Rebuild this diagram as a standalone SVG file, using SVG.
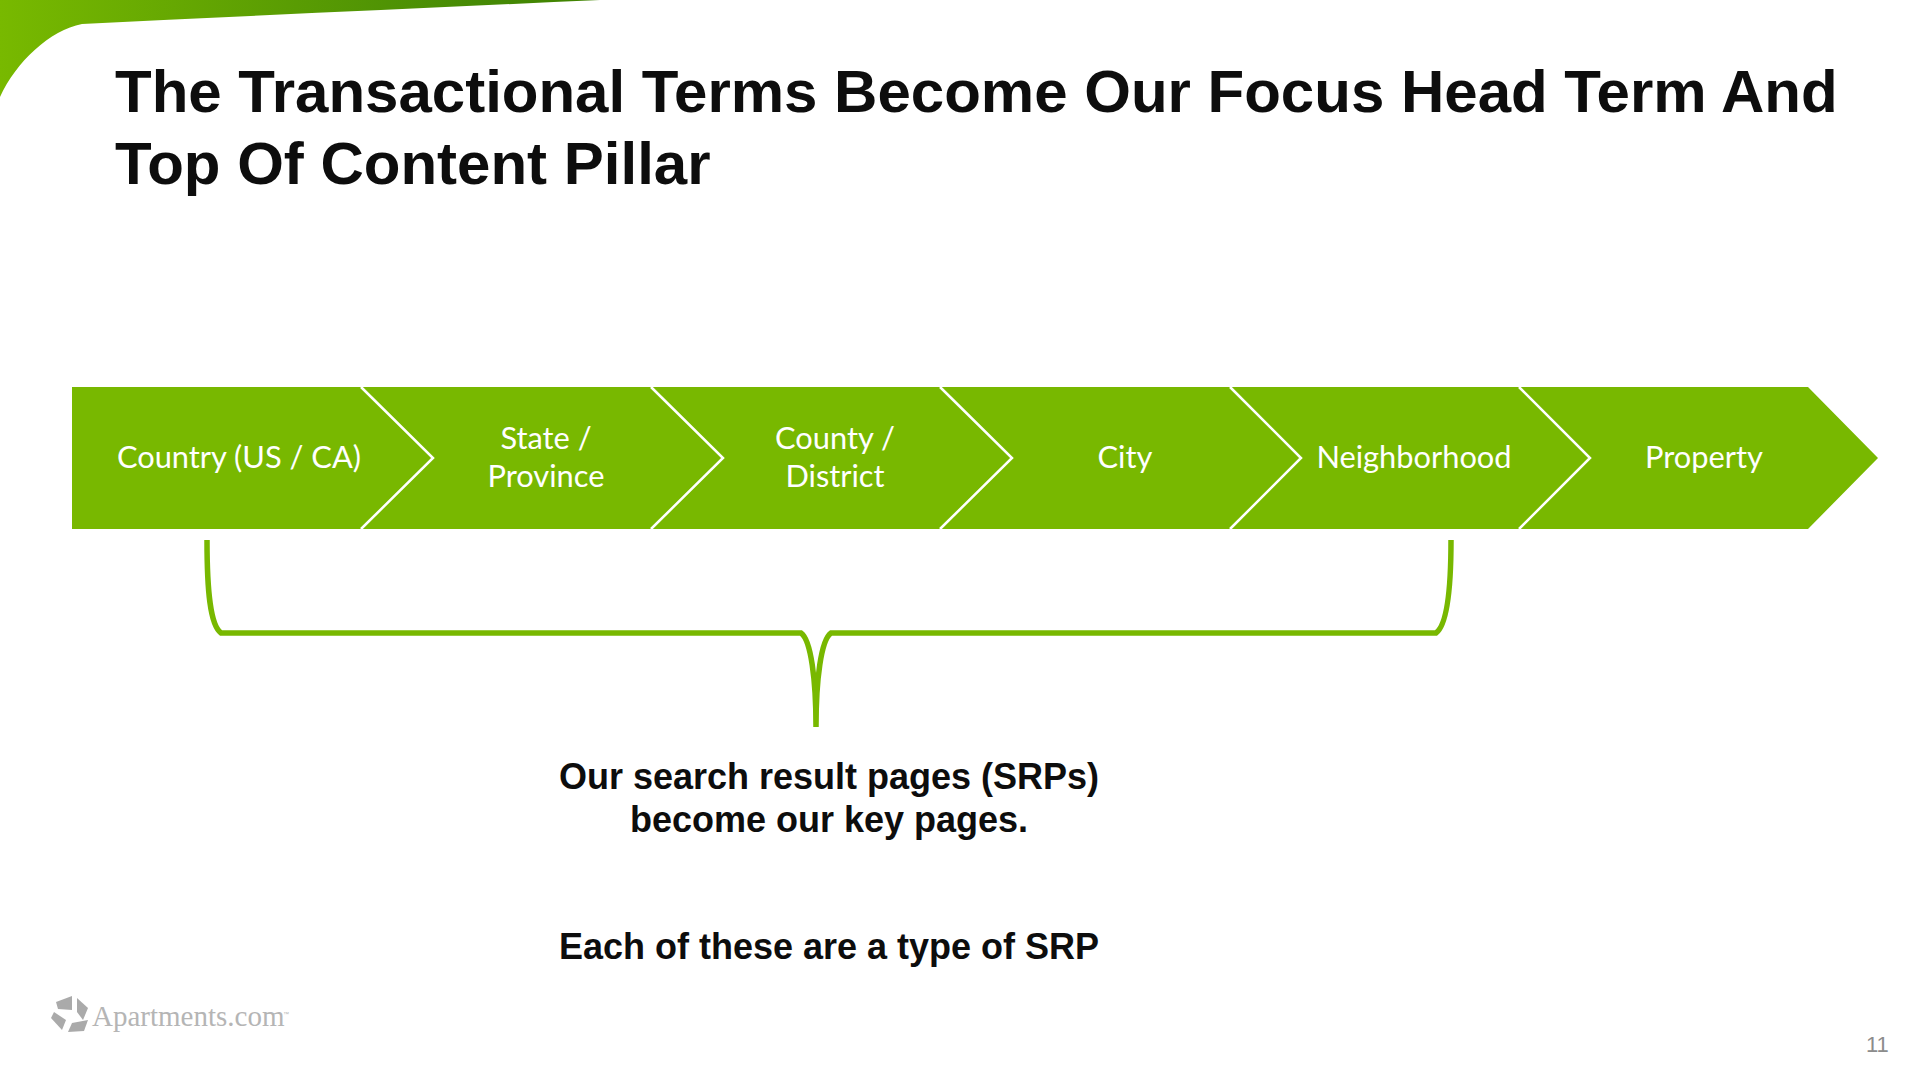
<svg xmlns="http://www.w3.org/2000/svg" width="1920" height="1080" viewBox="0 0 1920 1080">
<style>
.title{font:bold 60px "Liberation Sans",Arial,sans-serif;fill:#0d0d0d}
.body{font:bold 36px "Liberation Sans",Arial,sans-serif;fill:#0d0d0d;text-anchor:middle}
.step{font:30.8px Lato,"Open Sans",sans-serif;fill:#fff;text-anchor:middle}
.chev{fill:#78b800}
.edge{fill:none;stroke:#fff;stroke-width:2.5}
</style>
<defs><linearGradient id="swoosh" x1="0" y1="0" x2="1" y2="0"><stop offset="0" stop-color="#78b900"/><stop offset="0.8" stop-color="#468a05"/><stop offset="1" stop-color="#3f8200"/></linearGradient></defs>
<rect width="1920" height="1080" fill="#fff"/>
<path d="M0 0H600C420 8 250 16 82 24C50 30 16 62 0 97Z" fill="url(#swoosh)"/>
<text class="title" x="115" y="112">The Transactional Terms Become Our Focus Head Term And</text>
<text class="title" x="115" y="184">Top Of Content Pillar</text>
<g id="node-country"><path class="chev" d="M72 387H361L433 458L361 529H72Z"/><text class="step" x="239" y="468">Country (US / CA)</text></g>
<g id="node-state"><path class="chev" d="M361 387H651L723 458L651 529H361L433 458Z"/><text class="step" x="546" y="449">State /</text><text class="step" x="546" y="487">Province</text></g>
<g id="node-county"><path class="chev" d="M651 387H940L1012 458L940 529H651L723 458Z"/><text class="step" x="835" y="449">County /</text><text class="step" x="835" y="487">District</text></g>
<g id="node-city"><path class="chev" d="M940 387H1230L1301 458L1230 529H940L1012 458Z"/><text class="step" x="1125" y="468">City</text></g>
<g id="node-neighborhood"><path class="chev" d="M1230 387H1519L1590 458L1519 529H1230L1301 458Z"/><text class="step" x="1414" y="468">Neighborhood</text></g>
<g id="node-property"><path class="chev" d="M1519 387H1808L1878 458L1808 529H1519L1590 458Z"/><text class="step" x="1704" y="468">Property</text></g>
<g id="connectors"><path class="edge" d="M361 387L433 458L361 529M651 387L723 458L651 529M940 387L1012 458L940 529M1230 387L1301 458L1230 529M1519 387L1590 458L1519 529"/><path d="M207 540C207 590 210 625 221 633H801C811 640 816 680 816 727C816 680 821 640 831 633H1436C1447 625 1451 590 1451 540" fill="none" stroke="#78b800" stroke-width="5.5"/></g>
<g id="note"><text class="body" x="829" y="789">Our search result pages (SRPs)</text><text class="body" x="829" y="832">become our key pages.</text><text class="body" x="829" y="959">Each of these are a type of SRP</text></g>
<g id="logo"><g fill="#aaa"><path d="M56 1002L72 996L72 1010L58 1009Z"/><path d="M77 998L88 1008L83 1020L77 1012Z"/><path d="M88 1020L72 1023L68 1032L84 1031Z"/><path d="M62 1030L51 1018L54 1012L66 1020Z"/></g><text x="92" y="1026" font-family="Liberation Serif,serif" font-size="29" fill="#b5b5b5">Apartments.com</text><text x="283" y="1016" font-family="Liberation Sans,sans-serif" font-size="6" fill="#b5b5b5">™</text></g>
<text x="1866" y="1052" font-family="Liberation Sans,sans-serif" font-size="22" fill="#8c8c8c">11</text>
</svg>
